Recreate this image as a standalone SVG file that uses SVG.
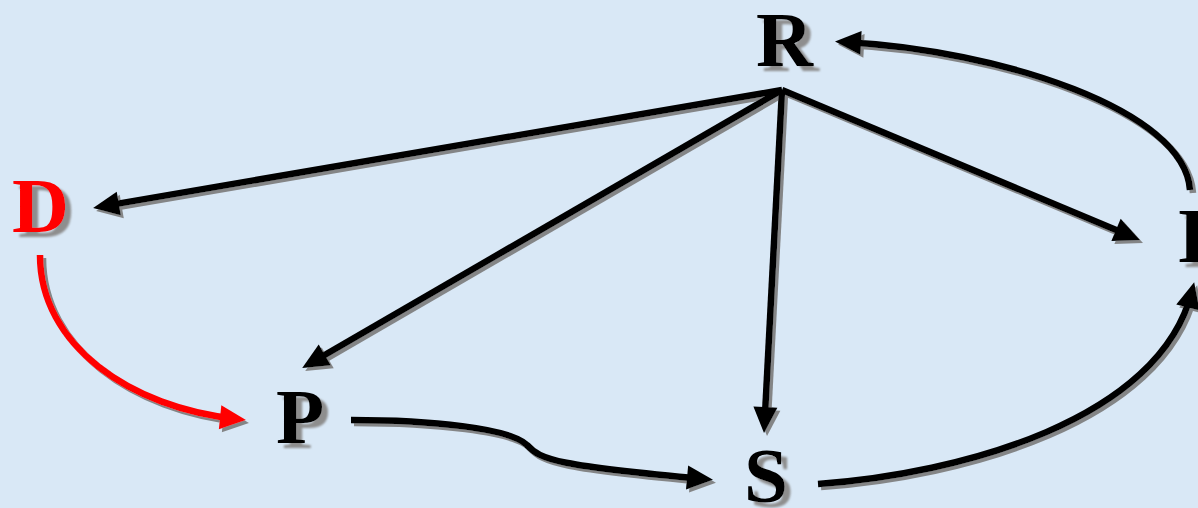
<svg xmlns="http://www.w3.org/2000/svg" width="1198" height="508" viewBox="0 0 1198 508">
<defs>
<style>
.lbl{font-family:"Liberation Serif","Times New Roman",serif;font-weight:bold;font-size:79px;filter:url(#ts)}
.k{fill:none;stroke:#000;stroke-width:6.5}
.r{fill:none;stroke:#f00;stroke-width:6.5}
</style>
<filter id="ds" x="-10%" y="-10%" width="130%" height="130%">
<feDropShadow dx="3" dy="3" stdDeviation="0.6" flood-color="#7a7a7a" flood-opacity="0.9"/>
</filter>
<filter id="ts" x="-20%" y="-20%" width="160%" height="160%">
<feDropShadow dx="6" dy="5" stdDeviation="0.8" flood-color="#8e8e8e" flood-opacity="1"/>
</filter>
<marker id="ak" markerUnits="userSpaceOnUse" markerWidth="30" markerHeight="28" refX="17" refY="12" orient="auto" overflow="visible">
<path d="M0,0 L26,12 L0,24 Z" fill="#000"/>
</marker>
<marker id="ar" markerUnits="userSpaceOnUse" markerWidth="30" markerHeight="28" refX="17" refY="12" orient="auto" overflow="visible">
<path d="M0,0 L26,12 L0,24 Z" fill="#f00"/>
</marker>
</defs>
<rect width="1198" height="508" fill="#d9e8f6"/>
<g id="connectors" filter="url(#ds)">
<path class="k" d="M782,90 L102,206.4" marker-end="url(#ak)"/>
<path class="k" d="M782,90 L310,363.5" marker-end="url(#ak)"/>
<path class="k" d="M782,90 L764.5,424" marker-end="url(#ak)"/>
<path class="k" d="M782,90 L1131.7,236.5" marker-end="url(#ak)"/>
<path class="k" d="M1190,190 C1185,110 1000,50 844,42" marker-end="url(#ak)"/>
<path class="r" d="M40,255 C40,345 130,408 237,419" marker-end="url(#ar)"/>
<path class="k" d="M351,420 C430,420 510,428 527,445 C540,460 560,466 704,479" marker-end="url(#ak)"/>
<path class="k" d="M818,484 C960,474 1160,420 1192,291" marker-end="url(#ak)"/>
</g>
<g id="node-R"><text class="lbl" x="756" y="66">R</text></g>
<g id="node-D"><text class="lbl" x="12" y="232" fill="#f00">D</text></g>
<g id="node-I"><text class="lbl" x="1177" y="262">I</text></g>
<g id="node-P"><text class="lbl" x="276" y="443">P</text></g>
<g id="node-S"><text class="lbl" x="744" y="502">S</text></g>
</svg>
